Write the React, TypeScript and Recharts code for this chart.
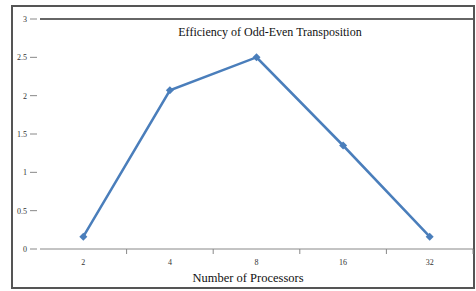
import React from 'react';
import { LineChart, Line, XAxis, YAxis, ReferenceLine } from 'recharts';

const processors = ['2', '4', '8', '16', '32'];
const efficiency = [0.16, 2.07, 2.5, 1.35, 0.16];
const yTicks = [0, 0.5, 1, 1.5, 2, 2.5, 3];
const yTickLabels = ['0', '0.5', '1', '1.5', '2', '2.5', '3'];

const data = processors.map((p, i) => ({ p, v: efficiency[i] }));

const W = 476;
const H = 291;
const M = { top: 19, right: 3, bottom: 12, left: 0 };
const YW = 40;
const BAND = (W - M.left - M.right - YW) / processors.length;

const XTick = (props: any) => {
  const { x, y, payload } = props;
  return (
    <g>
      <line x1={x + BAND / 2} y1={y - 8} x2={x + BAND / 2} y2={y - 3} stroke="#888" strokeWidth={1} />
      <text x={x} y={y + 8} textAnchor="middle" fontSize={8} fontFamily="'Liberation Serif', serif" fill="#333">
        {payload.value}
      </text>
    </g>
  );
};

const YTick = (props: any) => {
  const { x, y, payload, index } = props;
  return (
    <g>
      <line x1={x - 2} y1={y} x2={x + 5} y2={y} stroke="#888" strokeWidth={1} />
      <text x={x - 5} y={y + 3} textAnchor="end" fontSize={8} fontFamily="'Liberation Serif', serif" fill="#333">
        {yTickLabels[index] ?? payload.value}
      </text>
    </g>
  );
};

const Diamond = (props: any) => {
  const { cx, cy } = props;
  if (cx == null || cy == null) return null;
  return <path d={`M${cx},${cy - 4}L${cx + 4},${cy}L${cx},${cy + 4}L${cx - 4},${cy}Z`} fill="#4a7ebb" />;
};

export default function App() {
  return (
    <div style={{ position: 'absolute', left: 0, top: 0, width: W, height: H, background: '#fff' }}>
      <div
        style={{
          position: 'absolute',
          left: 11,
          top: 5,
          width: 460,
          height: 280,
          border: '2px solid #555',
        }}
      />
      <LineChart width={W} height={H} data={data} margin={M}>
        <XAxis
          dataKey="p"
          scale="band"
          height={30}
          stroke="#888"
          tickLine={false}
          tick={<XTick />}
          interval={0}
        />
        <YAxis
          width={YW}
          domain={[0, 3]}
          ticks={yTicks}
          axisLine={false}
          tickLine={false}
          tick={<YTick />}
          interval={0}
        />
        <ReferenceLine y={3} stroke="#333" strokeWidth={1.5} />
        <Line
          dataKey="v"
          stroke="#4a7ebb"
          strokeWidth={2.5}
          dot={<Diamond />}
          activeDot={false}
          isAnimationActive={false}
        />
      </LineChart>
      <div
        style={{
          position: 'absolute',
          left: 0,
          width: 540,
          top: 25,
          textAlign: 'center',
          fontFamily: "'Liberation Serif', serif",
          fontSize: 12,
          color: '#111',
        }}
      >
        Efficiency of Odd-Even Transposition
      </div>
      <div
        style={{
          position: 'absolute',
          left: 0,
          width: 496,
          top: 271,
          textAlign: 'center',
          fontFamily: "'Liberation Serif', serif",
          fontSize: 12.5,
          color: '#111',
        }}
      >
        Number of Processors
      </div>
    </div>
  );
}
